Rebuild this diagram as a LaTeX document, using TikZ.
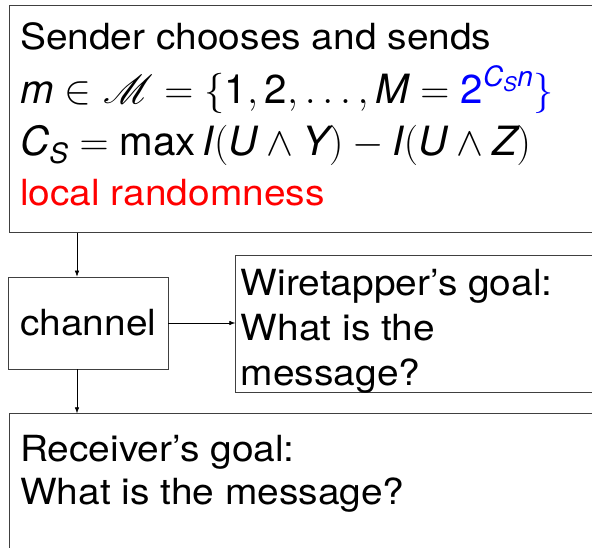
\RequirePackage{fix-cm}
\documentclass[tikz,border=0pt]{standalone}
\usepackage{amsmath}
\usepackage{graphicx}
\usepackage{mathrsfs}
\usepackage{fontspec}
\setmainfont{TeX Gyre Heros}[FakeStretch=1.08]
\newfontfamily\formulafont{TeX Gyre Heros}
\usetikzlibrary{arrows.meta}
\DeclareMathSizes{36}{36}{25}{18}
% scalable script capitals
\DeclareFontFamily{U}{rsfs}{\skewchar\font127}
\DeclareFontShape{U}{rsfs}{m}{n}{<-> rsfs10}{}
% sans-serif letters inside formulas; formulas set a little larger
\newcommand\mv[1]{\text{\formulafont\itshape #1}}
\newcommand\mn[1]{\text{\formulafont #1}}
\newcommand\wide[1]{\scalebox{1.12}[1.12]{#1}}
\begin{document}
\begin{tikzpicture}[x=1pt,y=-1pt,
  box/.style={draw=black!75, line width=0.8pt, rectangle, inner sep=0pt},
  txt/.style={anchor=base west, align=left, inner sep=0pt,
    font=\fontsize{36}{45}\selectfont},
  link/.style={draw=black, line width=0.6pt, -{Latex[length=6pt,width=4.5pt]}}]
\useasboundingbox (0,0) rectangle (592,548);
\clip (0,0) rectangle (592,548);

% sender (text anchored at the baseline of its last line)
\node[box, anchor=north west, minimum width=700pt, minimum height=227pt] (sender) at (8.7,5) {};
\node[txt] (sendtxt) at (20,206) {Sender chooses and sends\\[9pt]
  \wide{$\mv{m}\in\mathscr{M}=\{\mn{1},\mn{2},\ldots,\mv{M}=
   {\color{blue}\mn{2}^{\mv{C}_{\mv{S}}\mv{n}}\}}$}\\[7pt]
  \wide{$\mv{C}_{\mv{S}}=\mathop{\mn{max}}\mv{I}(\mv{U}\wedge\mv{Y})-\mv{I}(\mv{U}\wedge\mv{Z})$}\\[5pt]
  \color{red}local randomness};

% channel
\node[box, minimum width=159.3pt, minimum height=92pt,
  font=\fontsize{36}{45}\selectfont] (chan) at (88.35,323) {channel};

% wiretapper
\node[box, anchor=north west, minimum width=500pt, minimum height=136.7pt] (wire) at (235.3,255) {};
\node[txt] (wiretxt) at (240.7,385) {Wiretapper's goal:\\What is the\\message?};

% receiver
\node[box, anchor=north west, minimum width=700pt, minimum height=200pt] (recv) at (8.7,413.3) {};
\node[txt, font=\fontsize{36}{43}\selectfont] (recvtxt) at (20,504)
  {Receiver's goal:\\What is the message?};

% connectors
\coordinate (tap) at (77,0);
\draw[link] (sender.south -| tap) -- (chan.north -| tap);
\draw[link] (chan.east) -- (wire.west |- chan.east);
\draw[link] (chan.south -| tap) -- (recv.north -| tap);
\end{tikzpicture}
\end{document}
